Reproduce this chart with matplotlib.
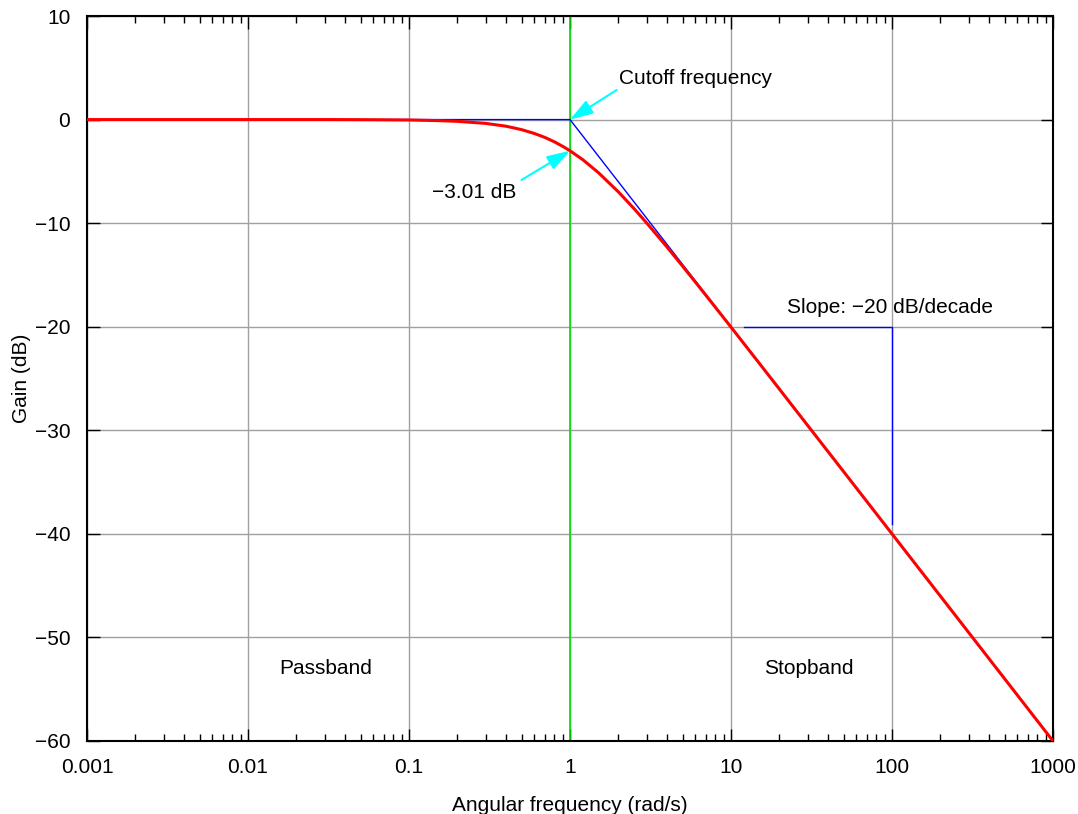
import matplotlib
matplotlib.use("Agg")
import matplotlib.pyplot as plt
from matplotlib.ticker import FixedLocator, FixedFormatter, LogLocator, NullFormatter

plt.rcParams['font.family'] = ['Liberation Sans', 'DejaVu Sans']

# red response curve
freq = [0.001, 0.01, 0.03, 0.05, 0.1, 0.15, 0.2, 0.3, 0.4, 0.5, 0.6, 0.7, 0.8, 0.9,
        1.0, 1.2, 1.5, 2.0, 2.5, 3.0, 4.0, 5.0, 6.0, 7.0, 8.0, 10.0, 15.0, 20.0,
        30.0, 50.0, 100.0, 1000.0]
gain = [0.0, 0.0, 0.0, -0.01, -0.04, -0.10, -0.17, -0.37, -0.64, -0.97, -1.34, -1.73,
        -2.15, -2.58, -3.01, -3.87, -5.12, -6.99, -8.60, -10.0, -12.30, -14.15,
        -15.68, -16.99, -18.13, -20.04, -23.54, -26.03, -29.55, -33.98, -40.0, -60.0]

# blue asymptotes
asym_freq = [0.001, 1.0, 1000.0]
asym_gain = [0.0, 0.0, -60.0]

# slope triangle
tri_freq = [12.0, 100.0, 100.0]
tri_gain = [-20.0, -20.0, -39.0]

cutoff = 1.0
xticks = [0.001, 0.01, 0.1, 1, 10, 100, 1000]
xlabels = ["0.001", "0.01", "0.1", "1", "10", "100", "1000"]
yticks = [-60, -50, -40, -30, -20, -10, 0, 10]

FS = 15

fig = plt.figure(figsize=(10.78, 8.14), dpi=100)
ax = fig.add_axes([87 / 1078, 1 - 741 / 814, (1053 - 87) / 1078, (741 - 16) / 814])

ax.set_xscale("log")
ax.set_xlim(0.001, 1000)
ax.set_ylim(-60, 10)

ax.xaxis.set_major_locator(FixedLocator(xticks))
ax.xaxis.set_major_formatter(FixedFormatter(xlabels))
ax.xaxis.set_minor_locator(LogLocator(base=10, subs=range(2, 10)))
ax.xaxis.set_minor_formatter(NullFormatter())
ax.set_yticks(yticks)

ax.grid(True, which="major", color="#a0a0a0", linewidth=1.0)
ax.set_axisbelow(True)
ax.tick_params(which="both", direction="in", top=True, right=True, labelsize=FS,
               color="black", width=1.0)
ax.tick_params(which="major", length=9)
ax.tick_params(which="minor", length=5)
ax.tick_params(axis="x", which="major", pad=12)
ax.tick_params(axis="y", which="major", pad=12)
for s in ax.spines.values():
    s.set_linewidth(1.5)

ax.axvline(cutoff, color="#00e000", linewidth=1.2, zorder=2)
ax.plot(asym_freq, asym_gain, color="#0000ff", linewidth=1.0, zorder=3)
ax.plot(tri_freq, tri_gain, color="#0000ff", linewidth=1.0, zorder=3)
ax.plot(freq, gain, color="#ff0000", linewidth=2.2, zorder=4)

arrow = dict(arrowstyle="-|>,head_length=1.4,head_width=0.45", color="#00ffff",
             linewidth=1.5, shrinkA=0, shrinkB=0)
ax.annotate("", xy=(1.0, 0.0), xytext=(1.95, 2.86), arrowprops=arrow, zorder=5)
ax.annotate("", xy=(1.0, -3.01), xytext=(0.50, -5.83), arrowprops=arrow, zorder=5)

ax.text(2.01, 3.92, "Cutoff frequency", fontsize=FS, ha="left", va="center")
ax.text(0.462, -7.08, "\u22123.01 dB", fontsize=FS, ha="right", va="center")
ax.text(97, -18.1, "Slope: \u221220 dB/decade", fontsize=FS, ha="center", va="center")
ax.text(0.0305, -53.0, "Passband", fontsize=FS, ha="center", va="center")
ax.text(30.5, -53.0, "Stopband", fontsize=FS, ha="center", va="center")

ax.set_xlabel("Angular frequency (rad/s)", fontsize=FS, labelpad=14)
ax.set_ylabel("Gain (dB)", fontsize=FS, labelpad=3)

fig.savefig("out.png", dpi=100)
